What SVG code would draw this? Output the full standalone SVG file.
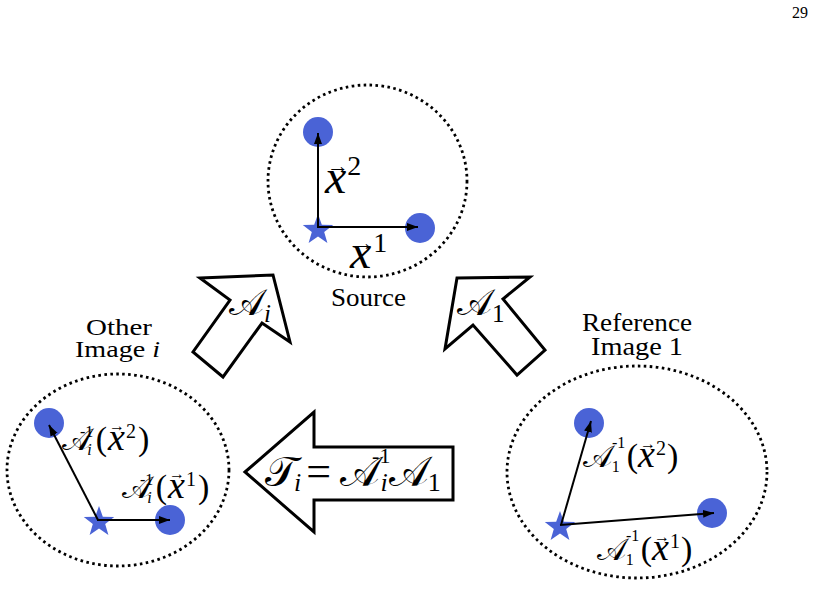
<svg xmlns="http://www.w3.org/2000/svg" width="818" height="611" viewBox="0 0 818 611">
<style>
.ell{fill:none;stroke:#000;stroke-width:2.8;stroke-dasharray:2.6 3.4}
.dot{fill:#4a63d6}
.big{fill:#fff;stroke:#000;stroke-width:3;stroke-linejoin:miter}
.vec{stroke:#000;stroke-width:2;fill:none}
text{font-family:'Liberation Serif','Times New Roman','DejaVu Serif',serif;fill:#000}
.it{font-style:italic}
.ar{text-anchor:middle}
</style>
<defs>
<marker id="ah" markerWidth="12" markerHeight="10" refX="11" refY="5" orient="auto" markerUnits="userSpaceOnUse"><path d="M0,1 L11,5 L0,9 Z" fill="#000"/></marker>
<polygon id="star" points="0,-16 3.82,-5.26 15.22,-4.94 6.18,2.01 9.4,12.94 0,6.5 -9.4,12.94 -6.18,2.01 -15.22,-4.94 -3.82,-5.26"/>
</defs>
<rect x="0" y="0" width="818" height="611" fill="#fff"/>
<text x="800" y="18" font-size="16" text-anchor="middle">29</text>

<g id="source">
<ellipse class="ell" cx="367.5" cy="181" rx="99.5" ry="96"/>
<circle class="dot" cx="318" cy="132" r="15"/>
<circle class="dot" cx="420" cy="228" r="15"/>
<use href="#star" class="dot" x="318" y="230"/>
<text x="325" y="193"><tspan class="it" font-size="48">x</tspan><tspan font-size="28" dx="1" dy="-18">2</tspan></text>
<text class="ar" x="338" y="173" font-size="22">→</text>
<text x="350" y="268"><tspan class="it" font-size="48">x</tspan><tspan font-size="28" dx="2" dy="-16">1</tspan></text>
<text class="ar" x="363" y="250" font-size="22">→</text>
<text x="331" y="306" font-size="25" textLength="75" lengthAdjust="spacingAndGlyphs">Source</text>
</g>

<g id="other">
<ellipse class="ell" cx="118" cy="470" rx="111" ry="96"/>
<circle class="dot" cx="49" cy="423" r="15"/>
<circle class="dot" cx="170" cy="520" r="15"/>
<use href="#star" class="dot" x="99" y="522"/>
<text x="86" y="335" font-size="24" textLength="66" lengthAdjust="spacingAndGlyphs">Other</text>
<text x="75" y="357" font-size="24" textLength="85" lengthAdjust="spacingAndGlyphs">Image<tspan class="it"> i</tspan></text>
<text x="62" y="450"><tspan font-size="31">𝒜</tspan><tspan font-size="16" dx="-11" dy="-13">-1</tspan><tspan class="it" font-size="16" dx="-6" dy="18">i</tspan><tspan font-size="34" dx="4" dy="-5">(</tspan><tspan class="it" font-size="38" dx="1">x</tspan><tspan font-size="20" dx="1" dy="-12">2</tspan><tspan font-size="34" dx="2" dy="12">)</tspan></text>
<text class="ar" x="117" y="431" font-size="16">→</text>
<text x="122" y="498"><tspan font-size="31">𝒜</tspan><tspan font-size="16" dx="-11" dy="-13">-1</tspan><tspan class="it" font-size="16" dx="-6" dy="18">i</tspan><tspan font-size="34" dx="4" dy="-5">(</tspan><tspan class="it" font-size="38" dx="1">x</tspan><tspan font-size="20" dx="1" dy="-12">1</tspan><tspan font-size="34" dx="2" dy="12">)</tspan></text>
<text class="ar" x="177" y="479" font-size="16">→</text>
</g>

<g id="reference">
<ellipse class="ell" cx="637" cy="472" rx="130" ry="106"/>
<circle class="dot" cx="589" cy="423" r="15"/>
<circle class="dot" cx="712" cy="513" r="15"/>
<use href="#star" class="dot" x="560" y="527"/>
<text x="582" y="331" font-size="25" textLength="110" lengthAdjust="spacingAndGlyphs">Reference</text>
<text x="591" y="355" font-size="25" textLength="92" lengthAdjust="spacingAndGlyphs">Image 1</text>
<text x="583" y="467"><tspan font-size="31">𝒜</tspan><tspan font-size="16" dx="0" dy="-19">-1</tspan><tspan font-size="16" dx="-13" dy="24">1</tspan><tspan font-size="34" dx="7" dy="-5">(</tspan><tspan class="it" font-size="38">x</tspan><tspan font-size="20" dx="1" dy="-12">2</tspan><tspan font-size="34" dx="1" dy="12">)</tspan></text>
<text class="ar" x="648" y="449" font-size="16">→</text>
<text x="597" y="560"><tspan font-size="31">𝒜</tspan><tspan font-size="16" dx="0" dy="-19">-1</tspan><tspan font-size="16" dx="-13" dy="24">1</tspan><tspan font-size="34" dx="7" dy="-5">(</tspan><tspan class="it" font-size="38">x</tspan><tspan font-size="20" dx="1" dy="-12">1</tspan><tspan font-size="34" dx="1" dy="12">)</tspan></text>
<text class="ar" x="662" y="542" font-size="16">→</text>
</g>

<g id="arrow-Ai">
<polygon class="big" points="200,278 273,275 290,342 262,323 223,377 193,352 230,300"/>
<text x="229" y="315"><tspan font-size="37">𝒜</tspan><tspan class="it" font-size="25" dy="7">i</tspan></text>
</g>

<g id="arrow-A1">
<polygon class="big" points="457,278 530,277 503,299 545,350 517,375 473,325 445,349"/>
<text x="457" y="315"><tspan font-size="37">𝒜</tspan><tspan font-size="25" dy="7">1</tspan></text>
</g>

<g id="arrow-Ti">
<polygon class="big" points="245,472 314,412 314,447 453,447 453,500 314,500 314,532"/>
<text x="265" y="486"><tspan font-size="42">𝒯</tspan><tspan class="it" font-size="26" dx="-3" dy="5">i</tspan><tspan font-size="44" dx="5" dy="-5">=</tspan><tspan font-size="42" dx="9">𝒜</tspan><tspan font-size="22" dx="-8" dy="-23">-1</tspan><tspan class="it" font-size="26" dx="-10" dy="28">i</tspan><tspan font-size="42" dx="1" dy="-5">𝒜</tspan><tspan font-size="26" dx="-1" dy="5">1</tspan></text>
</g>

<g id="connectors">
<line class="vec" x1="318" y1="228" x2="318" y2="133" marker-end="url(#ah)"/>
<line class="vec" x1="317" y1="227" x2="418" y2="227" marker-end="url(#ah)"/>
<line class="vec" x1="98" y1="520" x2="49" y2="425" marker-end="url(#ah)"/>
<line class="vec" x1="97" y1="520" x2="170" y2="520" marker-end="url(#ah)"/>
<line class="vec" x1="561" y1="525" x2="591" y2="421" marker-end="url(#ah)"/>
<line class="vec" x1="560" y1="525" x2="714" y2="513" marker-end="url(#ah)"/>
</g>
</svg>
